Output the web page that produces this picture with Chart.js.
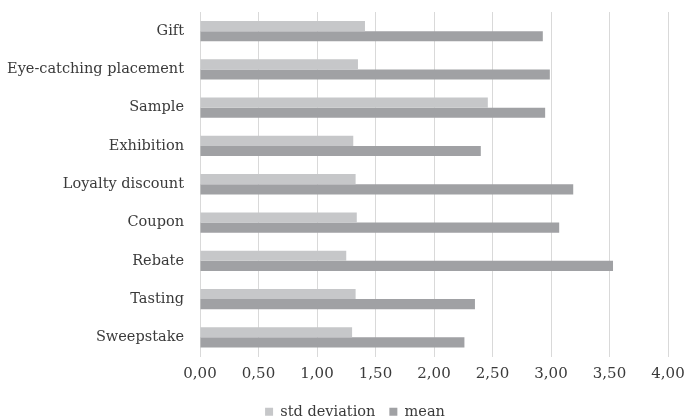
<!DOCTYPE html>
<html>
<head>
<meta charset="utf-8">
<script src="https://cdn.jsdelivr.net/npm/chart.js@4/dist/chart.umd.min.js"></script>
<style>
  html, body { margin: 0; padding: 0; background: #ffffff; }
  #wrap { width: 686px; height: 419px; position: relative; }
</style>
</head>
<body>
<div id="wrap"><canvas id="c" width="686" height="419"></canvas></div>
<script>
const categories = ["Gift", "Eye-catching placement", "Sample", "Exhibition", "Loyalty discount", "Coupon", "Rebate", "Tasting", "Sweepstake"];
const stdDeviation = [1.41, 1.35, 2.46, 1.31, 1.33, 1.34, 1.25, 1.33, 1.30];
const meanValues = [2.93, 2.99, 2.95, 2.40, 3.19, 3.07, 3.53, 2.35, 2.26];
const xTicks = [0, 0.5, 1, 1.5, 2, 2.5, 3, 3.5, 4];

const serif = "'DejaVu Serif', 'Liberation Serif', serif";
const textColor = "#3a3a3a";

// nudge the bottom legend slightly to the right of the canvas centre
const legendShift = {
  id: "legendShift",
  afterLayout(chart) {
    const lg = chart.legend;
    if (lg) { lg.left += 12; lg.right += 12; }
  }
};

new Chart(document.getElementById("c"), {
  type: "bar",
  data: {
    labels: categories,
    datasets: [
      { label: "std deviation", data: stdDeviation, backgroundColor: "#c6c7c9", borderWidth: 0 },
      { label: "mean", data: meanValues, backgroundColor: "#a0a1a4", borderWidth: 0 }
    ]
  },
  plugins: [legendShift],
  options: {
    indexAxis: "y",
    responsive: false,
    animation: false,
    devicePixelRatio: 1,
    layout: { padding: { left: 0, right: 0, top: 12, bottom: -10 } },
    categoryPercentage: 0.53,
    barPercentage: 1.0,
    plugins: {
      tooltip: { enabled: false },
      legend: {
        position: "bottom",
        labels: {
          font: { family: serif, size: 14.5 },
          color: textColor,
          boxWidth: 8,
          boxHeight: 8,
          padding: 14
        }
      }
    },
    scales: {
      x: {
        min: 0,
        max: 4,
        afterBuildTicks: (axis) => { axis.ticks = xTicks.map(v => ({ value: v })); },
        afterFit: (axis) => {
          axis.height = 34;
          axis.paddingLeft = 0;
          axis.paddingRight = 18;
        },
        ticks: {
          font: { family: serif, size: 15 },
          color: textColor,
          padding: 9,
          maxRotation: 0,
          callback: (v) => Number(v).toFixed(2).replace(".", ",")
        },
        grid: { color: "#d9d9d9", drawTicks: false, lineWidth: 1 },
        border: { display: false }
      },
      y: {
        afterFit: (axis) => {
          axis.width = 200;
          axis.paddingTop = 0;
          axis.paddingBottom = 0;
        },
        ticks: {
          font: { family: serif, size: 14.5 },
          color: textColor,
          padding: 16
        },
        grid: { display: false, drawTicks: false },
        border: { display: true, color: "#d9d9d9" }
      }
    }
  }
});
</script>
</body>
</html>
